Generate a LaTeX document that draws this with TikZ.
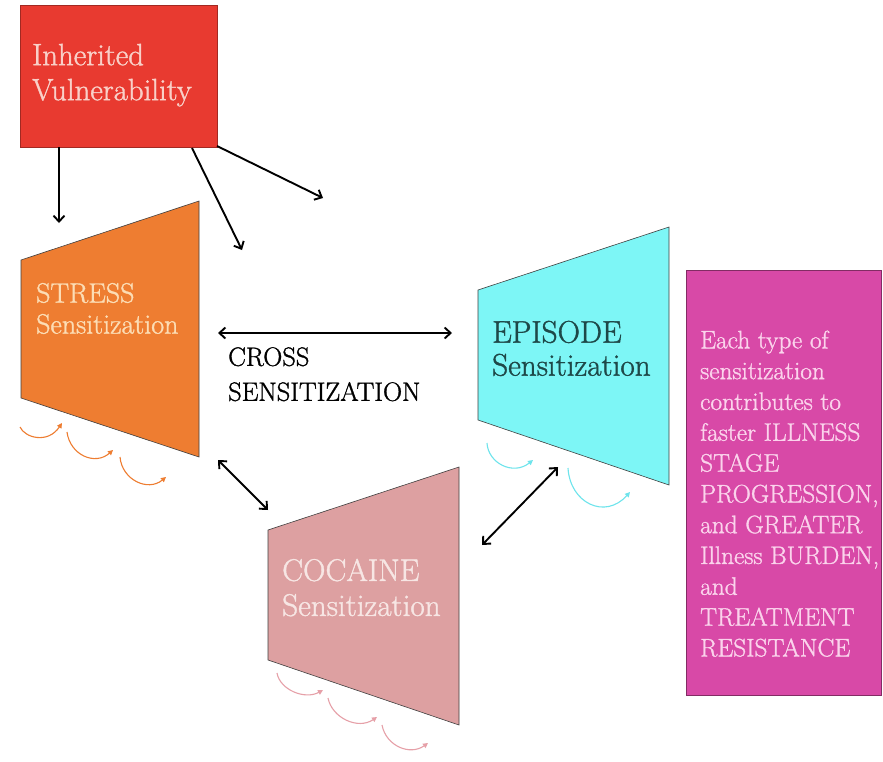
\documentclass[tikz,border=0pt]{standalone}
\usepackage{fontspec}
\setmainfont{Latin Modern Roman}
\newfontfamily\lmthick{Latin Modern Roman}[FakeBold=1.2]
\usetikzlibrary{arrows.meta}
\definecolor{redc}{RGB}{232,58,48}
\definecolor{redt}{RGB}{249,208,200}
\definecolor{orc}{RGB}{238,125,49}
\definecolor{ort}{RGB}{252,221,181}
\definecolor{cyc}{RGB}{125,246,246}
\definecolor{cyt}{RGB}{30,72,72}
\definecolor{cyl}{RGB}{110,228,236}
\definecolor{pkc}{RGB}{221,160,161}
\definecolor{pkt}{RGB}{247,230,228}
\definecolor{pkl}{RGB}{230,160,168}
\definecolor{mgc}{RGB}{216,73,167}
\definecolor{mgt}{RGB}{251,211,236}
\tikzset{
  shapeedge/.style={draw=black!75, line width=0.6pt},
  arr/.style={line width=1.9pt, -{Straight Barb[length=6pt,width=11pt,line width=1.9pt]}},
  darr/.style={line width=1.9pt, {Straight Barb[length=6pt,width=11pt,line width=1.9pt]}-{Straight Barb[length=6pt,width=11pt,line width=1.9pt]}},
  curl/.style={line width=1.1pt, -{Triangle[length=5pt,width=5pt]}},
  lbl/.style={anchor=north west, inner sep=0pt, align=left}
}
\begin{document}
\begin{tikzpicture}[x=1pt,y=-1pt]
\useasboundingbox[fill=white] (0,0) rectangle (883,761);

% Inherited vulnerability box
\node (inh) [fill=redc, draw=redc!70!black, line width=0.6pt, minimum width=197pt, minimum height=142pt, anchor=north west, inner sep=0pt] at (20,5) {};
\node (inhT) [lbl, text=redt, font=\lmthick\fontsize{30.8}{35}\selectfont] at (32,43.6) {Inherited\\Vulnerability};

% Trapezoids
\filldraw[fill=orc, shapeedge] (21,260) -- (199,201) -- (199,457) -- (21,398) -- cycle;
\node (stressT) [lbl, text=ort, font=\lmthick\fontsize{28}{31}\selectfont] at (36,282.8) {STRESS\\Sensitization};

\filldraw[fill=cyc, shapeedge] (478,290) -- (669,227) -- (669,485) -- (478,420) -- cycle;
\node (epiT) [lbl, text=cyt, font=\lmthick\fontsize{31.2}{33}\selectfont] at (492,320.6) {EPISODE\\Sensitization};

\filldraw[fill=pkc, shapeedge] (268,530) -- (459,467) -- (459,725) -- (268,660) -- cycle;
\node (cocT) [lbl, text=pkt, font=\lmthick\fontsize{31.2}{35}\selectfont] at (282,558.6) {COCAINE\\Sensitization};

% Outcome box
\node (out) [fill=mgc, draw=mgc!60!black, line width=0.8pt, minimum width=195pt, minimum height=425pt, anchor=north west, inner sep=0pt] at (686,270) {};
\node (outT) [lbl, text=mgt, font=\lmthick\fontsize{25.3}{30.8}\selectfont] at (700,330.4) {Each type of\\sensitization\\contributes to\\faster ILLNESS\\STAGE\\PROGRESSION,\\and GREATER\\Illness BURDEN,\\and\\TREATMENT\\RESISTANCE};

% Cross sensitization label
\node (crossT) [lbl, text=black, font=\lmthick\fontsize{26.5}{35}\selectfont] at (228,347.1) {CROSS\\SENSITIZATION};

% Arrows from Inherited Vulnerability
\coordinate (a1s) at (59,147);  \coordinate (a1e) at (59,223);
\coordinate (a2s) at (192,148); \coordinate (a2e) at (242,250);
\coordinate (a3s) at (217,146); \coordinate (a3e) at (323,198);
\draw[arr] (a1s) -- (a1e);
\draw[arr] (a2s) -- (a2e);
\draw[arr] (a3s) -- (a3e);

% Double arrows
\coordinate (c1) at (218,333); \coordinate (c2) at (452,333);
\coordinate (d1) at (218,460); \coordinate (d2) at (268,510);
\coordinate (e1) at (482,545); \coordinate (e2) at (558,467);
\draw[darr] (c1) -- (c2);
\draw[darr] (d1) -- (d2);
\draw[darr] (e1) -- (e2);

% Curly arrows
\coordinate (o1s) at (20,427);  \coordinate (o1e) at (62,423);
\coordinate (o2s) at (67,432);  \coordinate (o2e) at (113,450);
\coordinate (o3s) at (120,457); \coordinate (o3e) at (166,477);
\draw[curl, orc] (o1s) .. controls (25,438) and (48,444) .. (o1e);
\draw[curl, orc] (o2s) .. controls (70,455) and (95,466) .. (o2e);
\draw[curl, orc] (o3s) .. controls (122,480) and (148,492) .. (o3e);

\coordinate (y1s) at (487,443); \coordinate (y1e) at (533,460);
\coordinate (y2s) at (568,468); \coordinate (y2e) at (630,492);
\draw[curl, cyl] (y1s) .. controls (488,463) and (513,476) .. (y1e);
\draw[curl, cyl] (y2s) .. controls (570,503) and (605,520) .. (y2e);

\coordinate (p1s) at (277,673); \coordinate (p1e) at (323,690);
\coordinate (p2s) at (328,698); \coordinate (p2e) at (377,717);
\coordinate (p3s) at (382,725); \coordinate (p3e) at (428,743);
\draw[curl, pkl] (p1s) .. controls (280,690) and (305,700) .. (p1e);
\draw[curl, pkl] (p2s) .. controls (332,718) and (358,730) .. (p2e);
\draw[curl, pkl] (p3s) .. controls (386,746) and (410,756) .. (p3e);
\end{tikzpicture}
\end{document}
